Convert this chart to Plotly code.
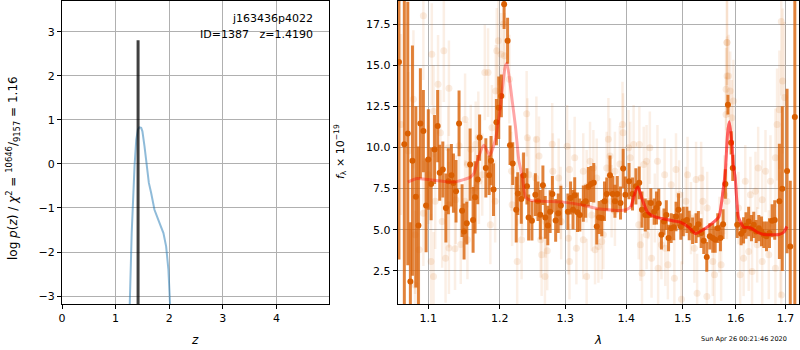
import plotly.graph_objects as go
import math

# ---------------- left panel: p(z) ----------------
pz_z = [1.20, 1.26, 1.30, 1.353, 1.385, 1.416, 1.445, 1.477, 1.50, 1.539, 1.58, 1.62, 1.663, 1.725, 1.818, 1.892, 1.942, 1.985, 2.02, 2.06]
pz_logp = [-6.0, -3.17, -1.57, -0.05, 0.55, 0.78, 0.83, 0.82, 0.74, 0.40, -0.05, -0.43, -0.66, -1.04, -1.34, -1.57, -1.87, -2.40, -3.3, -6.0]
z_best = 1.4190
z_line_top = 2.81

# ---------------- right panel: spectrum ----------------
# binned (dark) points
bin_wave = [1.0613, 1.0683, 1.0728, 1.0762, 1.0789, 1.0834, 1.0868, 1.0894, 1.0934, 1.0970,
            1.1000, 1.1038, 1.1084, 1.1126, 1.1154, 1.1196, 1.1238, 1.1272, 1.1314, 1.1342,
            1.1378, 1.1420, 1.1462, 1.1490, 1.1528, 1.1575, 1.1617, 1.1645, 1.1683, 1.1710,
            1.1799, 1.1846, 1.1874, 1.1910, 1.1952, 1.1986, 1.2024, 1.2065, 1.2116, 1.2152,
            1.2192, 1.2244, 1.2268, 1.2320, 1.2355, 1.2405, 1.2431, 1.2481, 1.2533, 1.2573,
            1.2609, 1.2649, 1.2685, 1.2725, 1.2761, 1.2796, 1.2847, 1.2888, 1.2929,
            1.3040, 1.3083, 1.3122, 1.3149, 1.3193, 1.3231, 1.3288, 1.3326, 1.3370, 1.3413,
            1.3458, 1.3507, 1.3546, 1.3590, 1.3635, 1.3673, 1.3727, 1.3772, 1.3810, 1.3850,
            1.3904, 1.3949, 1.3987, 1.4049, 1.4109, 1.4167, 1.4225, 1.4272, 1.4330,
            1.4381, 1.4428, 1.4486, 1.4528, 1.4568, 1.4615, 1.4661, 1.4703, 1.4743, 1.4790,
            1.4836, 1.4878, 1.4923, 1.4965, 1.5011, 1.5076, 1.5119, 1.5181, 1.5246, 1.5289,
            1.5340, 1.5389, 1.5446, 1.5503, 1.5559, 1.5605, 1.5654, 1.5705, 1.5756, 1.5800,
            1.5850, 1.5911, 1.5943, 1.6030, 1.6107, 1.6154, 1.6202, 1.6255, 1.6310, 1.6356,
            1.6404, 1.6457, 1.6511, 1.6558, 1.6612, 1.6673, 1.6727, 1.6780, 1.6875, 1.6935,
            1.7034, 1.7101, 1.7196]
bin_flux = [15.2, 10.2, 10.85, 1.85, 9.2, 7.0, 5.26, 11.46, 11.0, 6.48,
            9.27, 7.78, 9.88, 11.3, 8.46, 8.66, 6.32, 7.95, 8.31, 7.84,
            7.34, 11.46, 6.16, 4.9, 5.4, 8.96, 5.6, 6.97, 8.05, 10.6,
            8.76, 8.31, 9.2, 7.44, 11.54, 12.42, 13.13, 18.7, 16.48, 10.14,
            9.02, 6.22, 7.2, 6.87, 8.29, 7.64, 5.75, 5.55, 7.13, 6.73,
            5.91, 7.7, 5.75, 5.26, 6.1, 7.17, 5.57, 6.0, 6.48,
            6.1, 6.93, 6.22, 7.09, 6.06, 5.9, 6.59, 6.73, 7.62, 7.78,
            7.85, 5.2, 5.75, 5.71, 6.73, 7.17, 8.31, 7.17, 6.73, 7.17,
            6.63, 8.72, 7.13, 7.95, 7.17, 7.64, 7.85, 6.22, 5.9,
            5.9, 6.63, 6.1, 6.32, 6.59, 4.7, 5.5, 5.9, 4.5, 5.1,
            5.16, 5.81, 6.22, 5.2, 5.5, 5.6, 5.26, 4.94, 5.1, 5.34,
            4.8, 4.33, 3.35, 4.6, 4.5, 4.4, 5.1, 4.5, 5.34, 7.78,
            12.6, 10.28, 8.76, 5.3, 4.76, 4.96, 5.26, 5.5, 5.1, 5.3,
            4.9, 5.1, 4.9, 4.7, 4.6, 4.8, 5.55, 5.6, 6.73, 7.5,
            8.57, 3.98, 11.85]
bin_err = [12.0, 11.0, 8.0, 3.6, 7.0, 5.5, 4.8, 3.35, 2.5, 2.85,
           3.05, 2.2, 2.1, 2.2, 1.7, 1.7, 2.1, 2.0, 1.9, 1.8,
           1.9, 2.0, 1.6, 1.7, 1.3, 2.2, 2.0, 2.2, 1.5, 1.4,
           1.8, 1.2, 1.5, 1.6, 1.4, 1.9, 1.3, 1.5, 1.4, 1.2,
           1.3, 2.0, 1.3, 1.5, 1.4, 1.1, 1.4, 1.2, 1.3, 1.2,
           1.5, 1.2, 1.3, 1.2, 1.3, 1.1, 1.3, 1.2, 1.2,
           1.1, 1.0, 1.2, 1.1, 1.2, 1.0, 1.1, 1.0, 1.2, 1.1,
           1.2, 1.1, 1.0, 1.1, 1.2, 1.0, 1.2, 1.1, 1.0, 1.1,
           1.0, 1.2, 1.1, 1.1, 1.0, 1.1, 1.0, 1.1, 1.0,
           0.9, 0.9, 0.8, 1.0, 0.9, 0.9, 0.8, 0.9, 0.8, 0.9,
           0.8, 0.9, 1.0, 0.8, 0.9, 0.8, 0.9, 0.8, 0.9, 0.8,
           0.9, 0.8, 0.9, 0.8, 0.9, 0.8, 0.9, 0.8, 0.9, 0.9,
           0.6, 0.7, 0.8, 0.8, 0.7, 0.8, 0.8, 0.9, 0.8, 0.8,
           0.7, 0.8, 0.9, 0.8, 0.9, 0.9, 1.0, 1.2, 3.5, 5.0,
           5.0, 4.0, 15.0]

# unbinned (faint) points
raw_wave = [1.0639, 1.0736, 1.0802, 1.0824, 1.0824, 1.0877, 1.0934, 1.0934, 1.1000, 1.1037,
            1.1047, 1.1070, 1.1070, 1.1093, 1.1131, 1.1163, 1.1187, 1.1210, 1.1234, 1.1271,
            1.1280, 1.1280, 1.1280, 1.1364, 1.1374, 1.1420, 1.1444, 1.1504, 1.1504, 1.1537,
            1.1537, 1.1584, 1.1644, 1.1654, 1.1691,
            1.1700, 1.1747, 1.1784, 1.1831, 1.1864, 1.1887, 1.1934, 1.1943, 1.1957, 1.1980,
            1.2020, 1.2056, 1.2071, 1.2142, 1.2173, 1.2183, 1.2259, 1.2259, 1.2325, 1.2335,
            1.2401, 1.2412, 1.2437, 1.2538, 1.2549, 1.2589, 1.2615, 1.2630, 1.2681, 1.2691,
            1.2716, 1.2793, 1.2803, 1.2894, 1.2925,
            1.2934, 1.3028, 1.3050, 1.3066, 1.3066, 1.3149, 1.3176, 1.3287, 1.3287, 1.3342,
            1.3342, 1.3397, 1.3424, 1.3452, 1.3479, 1.3507, 1.3534, 1.3590, 1.3617, 1.3672,
            1.3700, 1.3727, 1.3755, 1.3810, 1.3810, 1.3893, 1.3937, 1.3948, 1.4041, 1.4070,
            1.4128, 1.4216, 1.4227, 1.4245, 1.4274, 1.4303,
            1.4352, 1.4352, 1.4381, 1.4410, 1.4440, 1.4498, 1.4545, 1.4556, 1.4615, 1.4673,
            1.4684, 1.4731, 1.4790, 1.4848, 1.4877, 1.4935, 1.4976, 1.4994, 1.5057, 1.5088,
            1.5151, 1.5214, 1.5246, 1.5265, 1.5340, 1.5372, 1.5447, 1.5454, 1.5560, 1.5592,
            1.5687, 1.5718, 1.5781, 1.5813, 1.5813, 1.5832, 1.5832,
            1.5830, 1.5830, 1.5861, 1.5892, 1.5924, 1.5955, 1.6054, 1.6087, 1.6155, 1.6188,
            1.6256, 1.6289, 1.6323, 1.6390, 1.6424, 1.6444, 1.6525, 1.6525, 1.6592, 1.6659,
            1.6693, 1.6794, 1.6794, 1.6828, 1.6875, 1.6895, 1.6915, 1.6915, 1.6942, 1.6983]
raw_flux = [11.4, 9.78, 12.93, 1.65, 4.7, 3.78, 18.0, 6.0, 8.35, 3.07,
            15.67, 12.2, 2.16, 6.73, 13.84, 10.9, 5.5, 15.87, 3.27, 9.98,
            13.6, 6.52, 3.9, 3.84, 6.83, 10.1, 4.1, 11.7, 6.73, 8.96,
            4.4, 9.9, 7.54, 10.2, 10.6,
            7.95, 8.35, 14.55, 14.55, 5.3, 11.2, 6.73, 13.43, 15.87, 16.48,
            15.67, 17.5, 15.57, 14.15, 8.56, 6.52, 3.07, 7.54, 4.39, 7.13,
            12.05, 10.59, 8.35, 8.15, 10.5, 9.48, 4.39, 3.48, 2.16, 5.5,
            3.72, 10.2, 8.56, 8.15, 6.63,
            5.5, 10.08, 4.49, 8.66, 3.07, 9.37, 3.88, 8.56, 4.39, 7.64,
            2.16, 9.17, 5.9, 8.76, 3.78, 8.15, 3.98, 4.29, 4.7, 8.76,
            10.5, 9.48, 6.73, 8.56, 6.12, 9.0, 11.4, 10.9, 9.98, 9.37,
            10.18, 5.3, 10.18, 4.09, 2.36, 8.96,
            9.17, 4.7, 6.73, 9.98, 3.27, 6.32, 9.17, 2.66, 4.09, 8.35,
            3.88, 2.87, 7.74, 2.05, 8.66, 7.13, 0.78, 5.1, 6.73, 8.35,
            5.71, 3.88, 8.05, 1.14, 8.15, 6.73, 0.94, 6.32, 3.07, 2.26,
            4.7, 2.87, 7.13, 13.54, 12.0, 16.38, 14.35,
            16.38, 6.73, 14.35, 13.43, 11.8, 12.83, 6.32, 2.26, 3.27, 7.95,
            3.68, 7.13, 2.46, 7.34, 4.09, 8.76, 6.83, 3.07, 8.56, 3.48,
            7.95, 9.37, 2.66, 11.4, 12.3, 4.7, 17.66, 1.04, 14.04, 13.03]
raw_err = [5.5, 4.8, 4.2, 4.5, 3.6, 3.4, 3.9, 3.2, 3.0, 2.9,
           3.1, 2.8, 2.7, 2.9, 3.0, 2.6, 2.8, 3.1, 2.7, 2.5,
           2.9, 2.6, 2.8, 2.5, 2.7, 2.6, 2.4, 2.8, 2.5, 2.6,
           2.4, 2.7, 2.5, 2.6, 2.8,
           2.6, 2.5, 2.9, 2.7, 2.4, 2.6, 2.5, 2.8, 2.6, 2.7,
           2.5, 2.8, 2.6, 2.7, 2.4, 2.5, 2.6, 2.3, 2.4, 2.5,
           2.6, 2.4, 2.3, 2.5, 2.6, 2.4, 2.3, 2.5, 2.4, 2.2,
           2.4, 2.5, 2.3, 2.4, 2.2,
           2.3, 2.5, 2.2, 2.4, 2.3, 2.5, 2.2, 2.3, 2.4, 2.2,
           2.3, 2.4, 2.2, 2.3, 2.1, 2.4, 2.2, 2.3, 2.1, 2.2,
           2.5, 2.3, 2.2, 2.4, 2.1, 2.3, 2.6, 2.4, 2.3, 2.2,
           2.4, 2.1, 2.3, 2.2, 2.4, 2.3,
           2.2, 2.1, 2.3, 2.2, 2.4, 2.1, 2.2, 2.3, 2.1, 2.2,
           2.3, 2.1, 2.2, 2.4, 2.2, 2.1, 2.3, 2.2, 2.1, 2.3,
           2.2, 2.1, 2.3, 2.4, 2.2, 2.1, 2.3, 2.2, 2.1, 2.2,
           2.3, 2.2, 2.4, 2.5, 2.3, 2.6, 2.4,
           2.6, 2.3, 2.5, 2.4, 2.3, 2.5, 2.2, 2.4, 2.3, 2.2,
           2.4, 2.3, 2.5, 2.4, 2.3, 2.5, 2.4, 2.6, 2.5, 2.7,
           2.8, 3.0, 3.2, 3.4, 3.6, 3.8, 4.5, 4.2, 4.4, 4.6]

# model
model_wave = [1.073, 1.085, 1.100, 1.135, 1.158, 1.163, 1.168, 1.177, 1.1855, 1.1935,
              1.2005, 1.208, 1.2107, 1.2183, 1.2233, 1.2283, 1.2335, 1.2385, 1.246, 1.297,
              1.330, 1.352, 1.395, 1.408, 1.4166, 1.4206, 1.4283, 1.437, 1.4516, 1.4953,
              1.5106, 1.5233, 1.5295, 1.5454, 1.5673, 1.5756, 1.580, 1.5843, 1.5876, 1.5927,
              1.5957, 1.5989, 1.6054, 1.6155, 1.6291, 1.6426, 1.656, 1.6863, 1.6964, 1.7032]
model_flux = [7.9, 8.11, 8.05, 7.9, 8.2, 8.43, 9.23, 10.14, 9.53, 10.45,
              12.27, 14.91, 15.12, 12.88, 11.26, 9.23, 8.2, 6.99, 6.79, 6.68,
              6.48, 6.28, 6.18, 6.38, 7.4, 7.6, 6.79, 6.07, 5.77, 5.46,
              5.16, 4.76, 4.85, 5.16, 5.77, 7.4, 8.6, 10.85, 11.56, 10.24,
              8.82, 8.2, 5.77, 5.16, 5.12, 4.85, 4.71, 4.71, 4.85, 5.2]
model_overlap_start = 1.40

left_xticks = [0, 1, 2, 3, 4]
left_yticks = [-3, -2, -1, 0, 1, 2, 3]
right_xticks = [1.1, 1.2, 1.3, 1.4, 1.5, 1.6, 1.7]
right_yticks = [2.5, 5.0, 7.5, 10.0, 12.5, 15.0, 17.5]

obj_name = "j163436p4022"
obj_info = "ID=1387   z=1.4190"
timestamp = "Sun Apr 26 00:21:46 2020"

W, H = 800, 350
FONT = "DejaVu Sans"
GRID = "#b0b0b0"

fig = go.Figure()

# left panel traces
fig.add_trace(go.Scatter(x=pz_z, y=pz_logp, mode="lines",
                         line=dict(color="rgba(31,119,180,0.5)", width=2),
                         xaxis="x", yaxis="y", showlegend=False, hoverinfo="skip"))
fig.add_trace(go.Scatter(x=[z_best, z_best], y=[-10, z_line_top], mode="lines",
                         line=dict(color="rgba(0,0,0,0.75)", width=3),
                         xaxis="x", yaxis="y", showlegend=False, hoverinfo="skip"))

# right panel traces
fig.add_trace(go.Scatter(x=raw_wave, y=raw_flux, mode="markers",
                         marker=dict(color="rgba(217,95,2,0.12)", size=7, line=dict(width=0)),
                         error_y=dict(type="data", array=raw_err, visible=True,
                                      color="rgba(217,95,2,0.10)", thickness=2.5, width=0),
                         xaxis="x2", yaxis="y2", showlegend=False, hoverinfo="skip"))
fig.add_trace(go.Scatter(x=bin_wave, y=bin_flux, mode="markers",
                         marker=dict(color="#d95f02", size=6, line=dict(width=0)),
                         error_y=dict(type="data", array=bin_err, visible=True,
                                      color="rgba(217,95,2,0.78)", thickness=3, width=0),
                         xaxis="x2", yaxis="y2", showlegend=False, hoverinfo="skip"))
fig.add_trace(go.Scatter(x=model_wave, y=model_flux, mode="lines",
                         line=dict(color="rgba(255,0,0,0.35)", width=3, shape="spline", smoothing=0.5),
                         xaxis="x2", yaxis="y2", showlegend=False, hoverinfo="skip"))
ov_w = [w for w in model_wave if w >= model_overlap_start]
ov_f = [f for w, f in zip(model_wave, model_flux) if w >= model_overlap_start]
fig.add_trace(go.Scatter(x=ov_w, y=ov_f, mode="lines",
                         line=dict(color="rgba(255,0,0,0.4)", width=3, shape="spline", smoothing=0.5),
                         xaxis="x2", yaxis="y2", showlegend=False, hoverinfo="skip"))

axis_common = dict(showline=True, linecolor="black", linewidth=1, mirror=True,
                   showgrid=True, gridcolor=GRID, gridwidth=0.8, zeroline=False,
                   ticks="outside", ticklen=4, tickcolor="black", tickwidth=1,
                   automargin=False,
                   tickfont=dict(family=FONT, size=11, color="black"))

fig.update_layout(
    width=W, height=H,
    margin=dict(l=0, r=0, t=0, b=0, pad=0),
    paper_bgcolor="white", plot_bgcolor="white",
    font=dict(family=FONT, color="black"),
    xaxis=dict(domain=[62 / W, 329 / W], range=[0, 4.98], tickvals=left_xticks,
               anchor="y", **axis_common),
    yaxis=dict(domain=[1 - 304 / H, 1 - 1 / H], range=[-3.18, 3.70], tickvals=left_yticks,
               anchor="x", **axis_common),
    xaxis2=dict(domain=[397.7 / W, 799.3 / W], type="log",
                range=[math.log10(1.0597), math.log10(1.7290)],
                tickvals=right_xticks, ticktext=[f"{v:.1f}" for v in right_xticks],
                anchor="y2", **axis_common),
    yaxis2=dict(domain=[1 - 304 / H, 1 - 1 / H], range=[0.49, 18.9], tickvals=right_yticks,
                ticktext=[f"{v:.1f}" for v in right_yticks],
                anchor="x2", **axis_common),
)

ann_font = dict(family=FONT, size=11, color="black")
fig.add_annotation(text=obj_name, xref="paper", yref="paper", x=315 / W, y=1 - 19 / H,
                   xanchor="right", yanchor="middle", showarrow=False, font=ann_font)
fig.add_annotation(text=obj_info, xref="paper", yref="paper", x=315 / W, y=1 - 34 / H,
                   xanchor="right", yanchor="middle", showarrow=False, font=ann_font)
fig.add_annotation(text="<i>z</i>", xref="paper", yref="paper", x=195 / W, y=1 - 340 / H,
                   xanchor="center", yanchor="middle", showarrow=False,
                   font=dict(family=FONT, size=12, color="black"))
fig.add_annotation(text="<i>λ</i>", xref="paper", yref="paper", x=598 / W, y=1 - 340 / H,
                   xanchor="center", yanchor="middle", showarrow=False,
                   font=dict(family=FONT, size=12, color="black"))
fig.add_annotation(text="log <i>p</i>(<i>z</i>) / <i>χ</i><sup>2</sup> = <sup>10646</sup>/<sub>9157</sub> = 1.16",
                   xref="paper", yref="paper", x=13 / W, y=1 - 168 / H, textangle=-90,
                   xanchor="center", yanchor="middle", showarrow=False,
                   font=dict(family=FONT, size=12, color="black"))
fig.add_annotation(text="<i>f</i><sub>λ</sub> × 10<sup>−19</sup>",
                   xref="paper", yref="paper", x=340 / W, y=1 - 152 / H, textangle=-90,
                   xanchor="center", yanchor="middle", showarrow=False,
                   font=dict(family=FONT, size=11, color="black"))
fig.add_annotation(text=timestamp, xref="paper", yref="paper", x=789 / W, y=1 - 339 / H,
                   xanchor="right", yanchor="middle", showarrow=False,
                   font=dict(family=FONT, size=6.5, color="black"))

fig.write_html("out.html", config={"displayModeBar": False},
               post_script="document.body.style.margin='0px';document.body.style.overflow='hidden';")
